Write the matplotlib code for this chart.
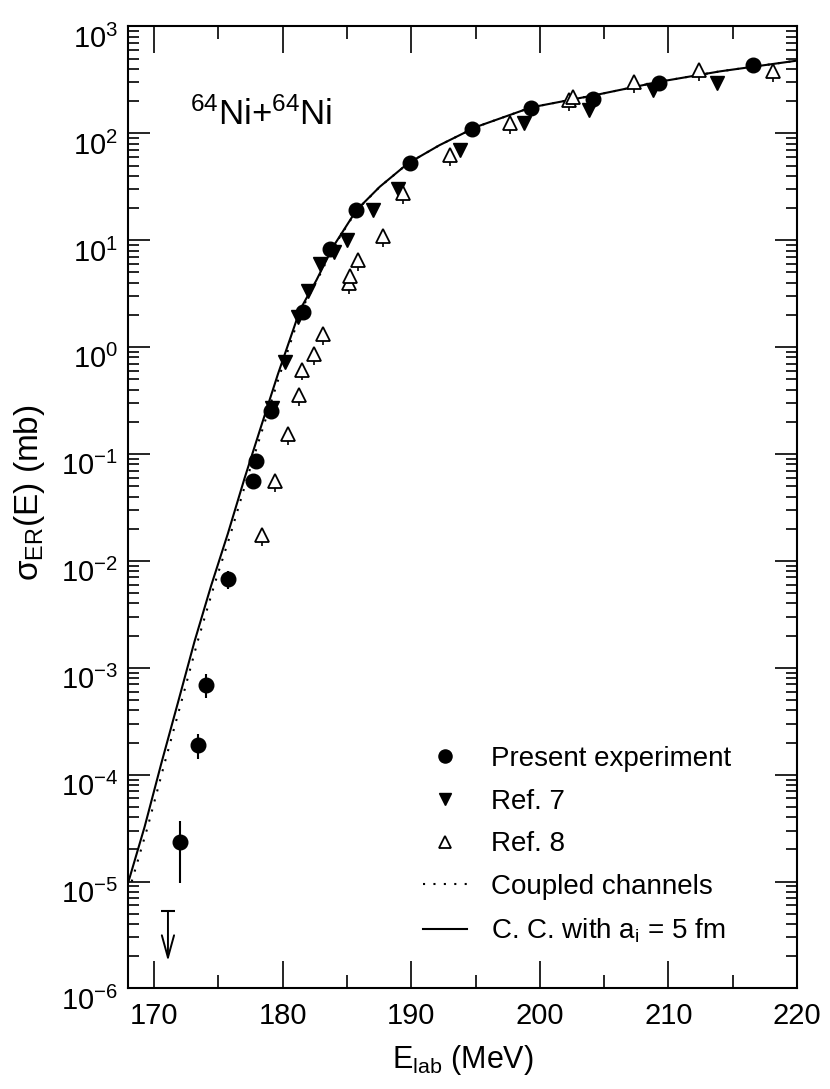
import numpy as np
import matplotlib
matplotlib.use("Agg")
import matplotlib.pyplot as plt
from matplotlib.ticker import (FixedLocator, FuncFormatter, MultipleLocator,
                               NullFormatter)
from matplotlib.patches import ArrowStyle
from matplotlib.transforms import ScaledTranslation

plt.rcParams['font.family'] = ['Liberation Sans', 'DejaVu Sans']
plt.rcParams['mathtext.fontset'] = 'custom'
plt.rcParams['mathtext.rm'] = 'Liberation Sans'
plt.rcParams['mathtext.it'] = 'Liberation Sans:italic'
plt.rcParams['mathtext.bf'] = 'Liberation Sans:bold'

# ---- present experiment (mb) ----
E_pres = [172.0, 173.4, 174.05, 175.73, 177.7, 177.95, 179.12, 181.58, 183.71,
          185.68, 189.87, 194.74, 199.33, 204.17, 209.3, 216.55]
sig_pres = [2.35e-5, 1.9e-4, 6.9e-4, 6.8e-3, 0.0562, 0.086, 0.254, 2.11, 8.26,
            19.1, 52.4, 110, 171, 208, 294, 436]
err_pres_lo = [1.39e-5, 0.49e-4, 1.7e-4, 1.3e-3, 0.003, 0.004, 0.012, 0.1, 0.4,
               0.9, 2.5, 5, 8, 10, 14, 20]
err_pres_hi = [1.35e-5, 0.51e-4, 1.9e-4, 1.3e-3, 0.003, 0.004, 0.012, 0.1, 0.4,
               0.9, 2.5, 5, 8, 10, 14, 20]

# upper limit at the lowest energy
E_limit = 171.07
sig_limit = 5.3e-6
sig_limit_tip = 1.8e-6

# ---- Ref. 7 ----
E_ref7 = [179.2, 180.14, 181.18, 181.97, 182.88, 184.0, 185.0, 186.99, 189.0,
          193.78, 198.8, 203.8, 208.78, 213.75]
sig_ref7 = [0.27, 0.72, 1.9, 3.35, 5.95, 7.8, 9.95, 19.2, 30.2,
            69.8, 124, 165, 254, 294]

# ---- Ref. 8 ----
E_ref8 = [178.38, 179.37, 180.38, 181.26, 181.46, 182.4, 183.15, 185.12, 185.25,
          185.82, 187.8, 189.38, 192.98, 197.7, 202.3, 202.6, 207.36, 212.35, 218.16]
sig_ref8 = [0.0175, 0.0562, 0.155, 0.357, 0.617, 0.86, 1.32, 3.97, 4.6,
            6.5, 11.0, 27.6, 62.6, 124, 205, 220, 300, 392, 385]
err_ref8_lo = [0.21 * s for s in sig_ref8]
err_ref8_hi = [0.0 for s in sig_ref8]

# ---- coupled-channels calculations ----
E_cc_ai5 = [168.0, 169.26, 170.55, 171.85, 173.14, 174.43, 175.73, 177.03, 178.32,
            179.62, 180.91, 181.33, 182.62, 183.91, 185.73, 187.54, 189.74, 192.2,
            195.06, 199.33, 204.38, 209.3, 214.0, 220.0]
sig_cc_ai5 = [1.0e-5, 3.27e-5, 1.27e-4, 4.74e-4, 1.77e-3, 5.87e-3, 1.80e-2, 5.94e-2,
              0.182, 0.557, 1.57, 2.22, 4.23, 8.67, 19.1, 31.6, 52.4, 77.6,
              115, 175, 229, 304, 380, 479]

E_cc = [168.25, 169.5, 170.8, 172.1, 173.38, 174.66, 175.95, 177.23, 178.5,
        179.78, 181.03, 181.43, 182.68, 183.95, 185.76, 187.55, 189.74, 192.2,
        195.06, 199.33, 204.38, 209.3, 214.0, 220.0]
sig_cc = [1.0e-5, 3.27e-5, 1.27e-4, 4.74e-4, 1.77e-3, 5.87e-3, 1.80e-2, 5.94e-2,
          0.182, 0.557, 1.57, 2.22, 4.23, 8.67, 19.1, 31.6, 52.4, 77.6,
          115, 175, 229, 304, 380, 479]

# axis decades shown on the log scale
y_decades = list(range(-6, 4))

fig = plt.figure(figsize=(8.3, 10.89), dpi=100)
ax = fig.add_axes([0.1548, 0.0923, 0.8054, 0.8834])

ax.set_yscale('log')
ax.set_xlim(168, 220)
ax.set_ylim(10.0 ** y_decades[0], 10.0 ** y_decades[-1])

# theory curves
ax.plot(E_cc, sig_cc, color='black', lw=1.5, linestyle=(0, (1, 4)),
        label='Coupled channels', zorder=2)
ax.plot(E_cc_ai5, sig_cc_ai5, color='black', lw=1.5, linestyle='-',
        label='C. C. with a$_\\mathregular{i}$ = 5 fm', zorder=2)

# error bars
ax.errorbar(E_pres, sig_pres, yerr=[err_pres_lo, err_pres_hi], fmt='none',
            ecolor='black', elinewidth=1.5, capsize=0, zorder=3)
ax.errorbar(E_ref8, sig_ref8, yerr=[err_ref8_lo, err_ref8_hi], fmt='none',
            ecolor='black', elinewidth=1.2, capsize=0, zorder=3)

# data markers
h7, = ax.plot(E_ref7, sig_ref7, linestyle='none', marker='v', ms=10,
              mfc='black', mec='black', label='Ref. 7', zorder=4)
h8, = ax.plot(E_ref8, sig_ref8, linestyle='none', marker='^', ms=9.5,
              mfc='white', mec='black', mew=1.3, label='Ref. 8', zorder=4)
hp, = ax.plot(E_pres, sig_pres, linestyle='none', marker='o', ms=10.5,
              mfc='black', mec='black', label='Present experiment', zorder=5)

# upper limit
ax.plot([E_limit], [sig_limit], linestyle='none', marker='_', ms=10, mew=1.5,
        color='black', zorder=4)
ax.annotate('', xy=(E_limit, sig_limit_tip), xytext=(E_limit, sig_limit),
            arrowprops=dict(arrowstyle=ArrowStyle('->', head_length=0.8, head_width=0.22),
                            mutation_scale=20, lw=1.4, color='black',
                            shrinkA=0, shrinkB=0))

# axes styling
for sp in ax.spines.values():
    sp.set_linewidth(1.5)
ax.xaxis.set_major_locator(MultipleLocator(10))
ax.xaxis.set_minor_locator(MultipleLocator(5))
ax.yaxis.set_major_locator(FixedLocator([10.0 ** d for d in y_decades]))
ax.yaxis.set_minor_locator(FixedLocator(
    [m * 10.0 ** d for d in y_decades[:-1] for m in range(2, 10)]))
ax.yaxis.set_minor_formatter(NullFormatter())
ax.yaxis.set_major_formatter(FuncFormatter(
    lambda v, p: r'$\mathregular{10^{%d}}$' % int(round(np.log10(v)))))

ax.tick_params(axis='x', which='major', direction='in', length=19.5, width=1.2,
               top=True, labelsize=21, pad=10)
ax.tick_params(axis='x', which='minor', direction='in', length=9.5, width=1.2, top=True)
ax.tick_params(axis='y', which='major', direction='in', length=16, width=1.2,
               right=True, labelsize=21, pad=7.5)
ax.tick_params(axis='y', which='minor', direction='in', length=8, width=1.2, right=True)

ax.set_xlabel('E$_\\mathregular{lab}$ (MeV)', fontsize=22, va='top')
ax.xaxis.set_label_coords(0.5, -0.057)
ax.set_ylabel('σ$_\\mathregular{ER}$(E) (mb)', fontsize=24)
ax.yaxis.set_label_coords(-0.122, 0.515)

ax.text(0.092, 0.8976, r'$\mathregular{^{64}Ni{+}^{64}Ni}$', transform=ax.transAxes,
        fontsize=25, va='baseline', ha='left')

handles, labels = ax.get_legend_handles_labels()
order = ['Present experiment', 'Ref. 7', 'Ref. 8', 'Coupled channels',
         'C. C. with a$_\\mathregular{i}$ = 5 fm']
hl = dict(zip(labels, handles))
ax.legend([hl[k] for k in order], order, loc='lower left',
          bbox_to_anchor=(0.4405, 0.045), frameon=False, fontsize=20,
          handlelength=1.6, handletextpad=0.86, labelspacing=0.6,
          borderpad=0, borderaxespad=0, markerscale=0.9)

# drop the decade labels a little so the mantissa sits just under its tick
fig.canvas.draw()
shift = ScaledTranslation(0, -7 / 72, fig.dpi_scale_trans)
for t in ax.yaxis.get_major_ticks():
    t.label1.set_transform(t.label1.get_transform() + shift)

fig.savefig('out.png', dpi=100)
